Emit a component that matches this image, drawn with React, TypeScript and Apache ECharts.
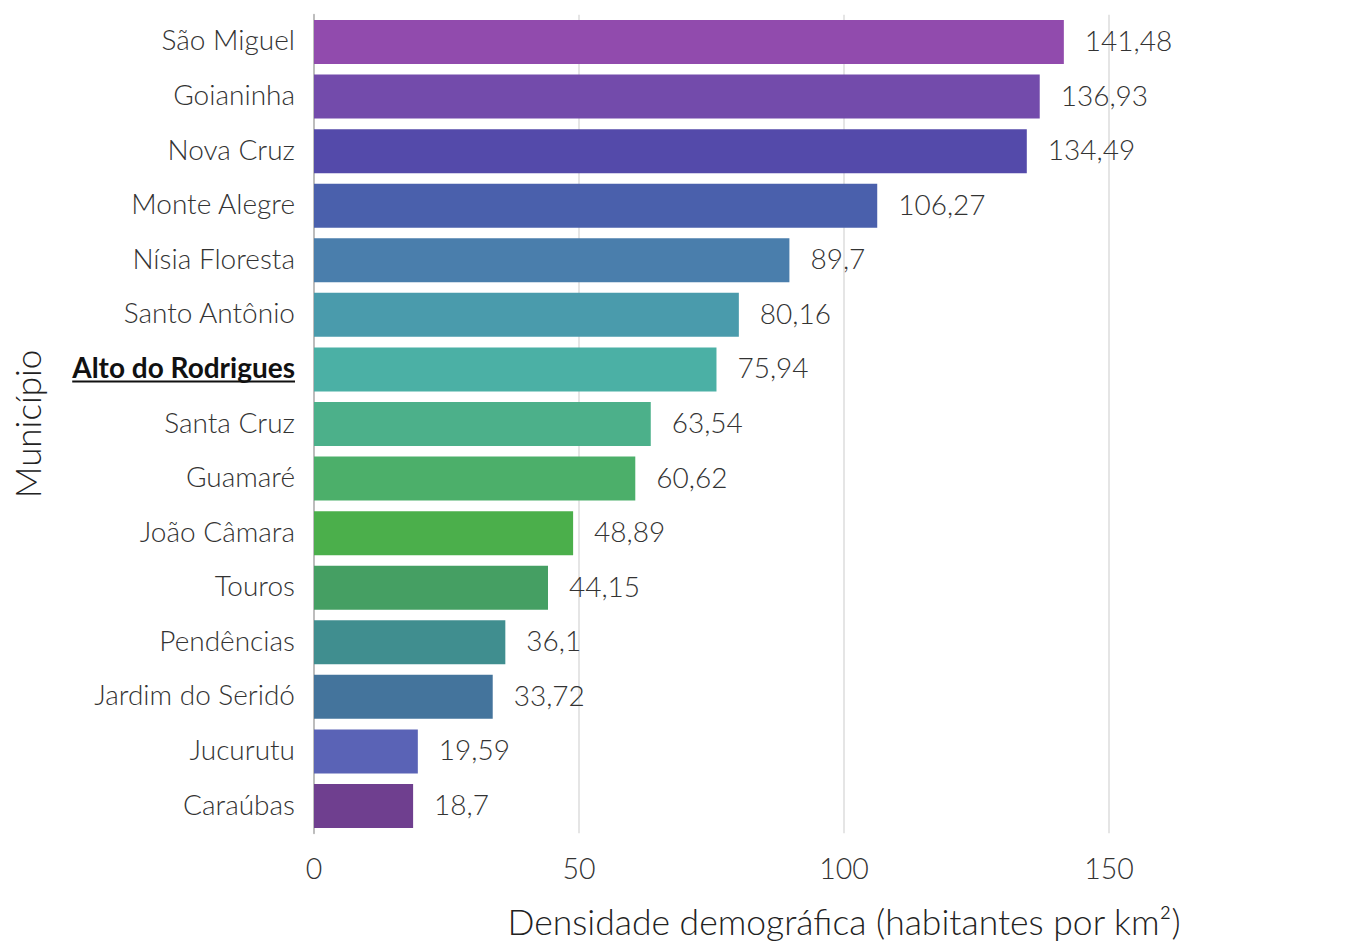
import React, { useEffect, useRef } from "react";
import * as echarts from "echarts";

const categories = [
  "São Miguel",
  "Goianinha",
  "Nova Cruz",
  "Monte Alegre",
  "Nísia Floresta",
  "Santo Antônio",
  "Alto do Rodrigues",
  "Santa Cruz",
  "Guamaré",
  "João Câmara",
  "Touros",
  "Pendências",
  "Jardim do Seridó",
  "Jucurutu",
  "Caraúbas",
];
const values = [141.48, 136.93, 134.49, 106.27, 89.7, 80.16, 75.94, 63.54, 60.62, 48.89, 44.15, 36.1, 33.72, 19.59, 18.7];
const colors = [
  "#914BAD",
  "#734BAB",
  "#544AAA",
  "#4A60AC",
  "#4A7EAC",
  "#4A9BAC",
  "#4BB0A5",
  "#4CB08A",
  "#4CAF6A",
  "#4BAF4B",
  "#459F63",
  "#408E8F",
  "#44749C",
  "#5A63B6",
  "#6F3F8F",
];
const highlighted = "Alto do Rodrigues";
const xTicks = [0, 50, 100, 150];
const xTitle = "Densidade demográfica (habitantes por km²)";
const yTitle = "Município";

const FONT = "Lato";
const LS = 28;

export default function App() {
  const ref = useRef<HTMLDivElement>(null);
  useEffect(() => {
    if (!ref.current) return;
    const chart = echarts.init(ref.current, null, { renderer: "svg" });
    const fmt = (v: number) => String(v).replace(".", ",");
    chart.setOption({
      animation: false,
      grid: {
        left: 314,
        right: -10,
        top: 14.7,
        bottom: 109.7,
        containLabel: false,
        outerBoundsMode: "none",
      },
      xAxis: {
        type: "value",
        min: 0,
        max: 200,
        interval: 50,
        name: xTitle,
        nameLocation: "middle",
        nameGap: 70,
        nameTextStyle: { fontFamily: FONT, fontWeight: 300, fontSize: 35.5, color: "#222" },
        axisLine: { show: false },
        axisTick: { show: false },
        axisLabel: {
          fontFamily: FONT,
          fontWeight: 300,
          fontSize: 28.5,
          color: "#333",
          margin: 20,
          formatter: (v: number) => (xTicks.includes(v) ? String(v) : ""),
        },
        splitLine: { show: true, lineStyle: { color: "#dcdcdc", width: 1.5 } },
      },
      yAxis: {
        type: "category",
        inverse: true,
        data: categories,
        name: yTitle,
        nameLocation: "middle",
        nameGap: 270,
        nameRotate: 90,
        nameTextStyle: { fontFamily: FONT, fontWeight: 300, fontSize: 35, color: "#222" },
        axisLine: { show: true, lineStyle: { color: "#bdbdbd", width: 2 } },
        axisTick: { show: false },
        axisLabel: {
          margin: 19,
          formatter: (v: string) => (v === highlighted ? `{h|${v}}` : `{n|${v}}`),
          rich: {
            n: { fontFamily: FONT, fontWeight: 300, fontSize: LS, color: "#333", padding: [0, 0, 5, 0] },
            h: { fontFamily: FONT, fontWeight: "bold", fontSize: LS, color: "#111", padding: [0, 0, 5, 0] },
          },
        },
        splitLine: { show: false },
      },
      series: [
        {
          type: "bar",
          data: values.map((v, i) => ({ value: v, itemStyle: { color: colors[i] } })),
          barWidth: 44,
          label: {
            show: true,
            position: "right",
            distance: 21,
            offset: [0, -2],
            fontFamily: FONT,
            fontWeight: 300,
            fontSize: LS,
            color: "#333",
            formatter: (p: any) => fmt(p.value),
          },
        },
      ],
    });
    // underline for highlighted label
    const cy = chart.convertToPixel({ yAxisIndex: 0 }, highlighted) as number;
    const canvas = document.createElement("canvas");
    const ctx = canvas.getContext("2d");
    let w = 224;
    if (ctx) {
      ctx.font = `bold ${LS}px ${FONT}`;
      w = ctx.measureText(highlighted).width;
    }
    const rightX = 314 - 19;
    chart.setOption({
      graphic: [
        {
          type: "line",
          shape: { x1: rightX - w, y1: cy + 12, x2: rightX, y2: cy + 12 },
          style: { stroke: "#111", lineWidth: 2 },
        },
      ],
    });
    return () => chart.dispose();
  }, []);
  return (
    <div
      ref={ref}
      style={{ position: "absolute", left: 0, top: 0, width: 1364, height: 943, overflow: "hidden" }}
    />
  );
}
